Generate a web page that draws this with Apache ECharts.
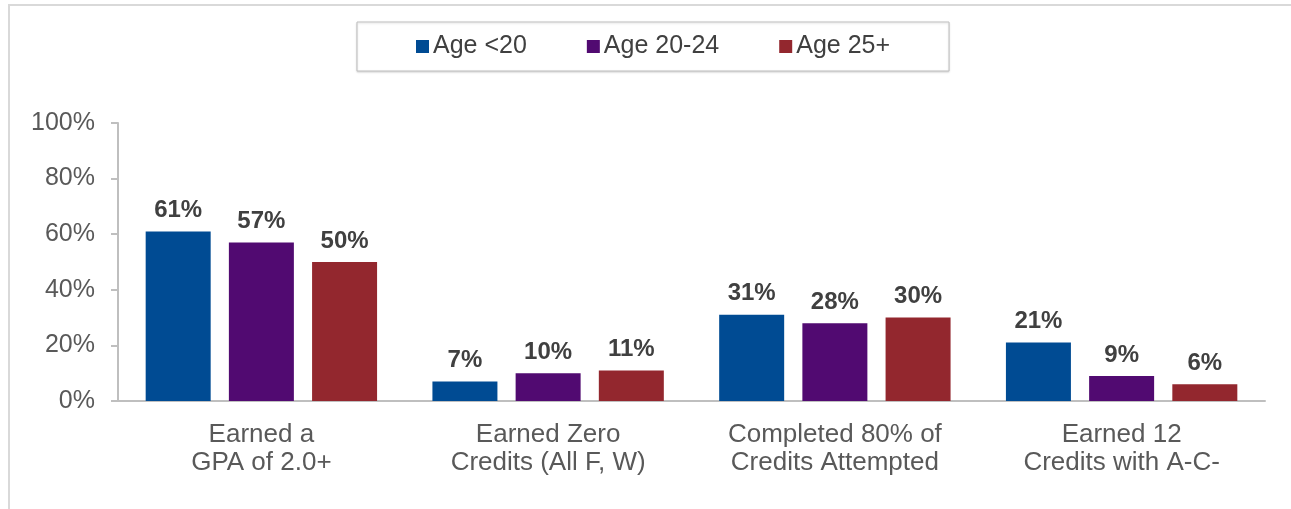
<!DOCTYPE html>
<html lang="en">
    <head>
        <meta charset="UTF-8" />
        <script src="https://cdn.jsdelivr.net/npm/echarts@6/dist/echarts.min.js"></script>
        <title>Metrics by Age Group</title>
        <style>
            html, body {
                margin: 0;
                padding: 0;
                background: #fff;
            }
            #frame {
                position: absolute;
                left: 8px;
                top: 4px;
                width: 1300px;
                height: 520px;
                border-top: 2px solid #d9d9d9;
                border-left: 2px solid #d9d9d9;
            }
            #chart {
                position: absolute;
                left: 0;
                top: 0;
                width: 1291px;
                height: 509px;
            }
        </style>
    </head>

    <body>
        <div id="frame"></div>
        <div id="chart"></div>
        <script type="text/javascript">
            // data
            var categories = [
                "Earned a\nGPA of 2.0+",
                "Earned Zero\nCredits (All F, W)",
                "Completed 80% of\nCredits Attempted",
                "Earned 12\nCredits with A-C-"
            ];
            var seriesNames = ["Age <20", "Age 20-24", "Age 25+"];
            var ageUnder20 = [61, 7, 31, 21];
            var age20to24 = [57, 10, 28, 9];
            var age25plus = [50, 11, 30, 6];
            var colors = ["#004b93", "#510a71", "#93272e"];

            var chart = echarts.init(document.getElementById("chart"));

            function barSeries(name, values, color) {
                return {
                    name: name,
                    type: "bar",
                    data: values,
                    barWidth: 65,
                    barGap: "28%",
                    itemStyle: { color: color },
                    label: {
                        show: true,
                        position: "top",
                        distance: 9,
                        formatter: "{c}%",
                        fontFamily: "Liberation Sans, Arial, sans-serif",
                        fontSize: 24,
                        fontWeight: "bold",
                        color: "#404040"
                    }
                };
            }

            var option = {
                animation: false,
                textStyle: { fontFamily: "Liberation Sans, Arial, sans-serif" },
                legend: {
                    left: 357,
                    top: 22,
                    padding: [12, 59],
                    itemWidth: 13,
                    itemHeight: 13,
                    itemGap: 60,
                    icon: "rect",
                    borderColor: "#bfbfbf",
                    borderWidth: 1,
                    backgroundColor: "#fff",
                    shadowColor: "rgba(0,0,0,0.15)",
                    shadowBlur: 2,
                    shadowOffsetY: 1,
                    textStyle: {
                        fontSize: 25,
                        color: "#404040",
                        padding: [0, 0, 0, -1]
                    },
                    data: seriesNames
                },
                grid: {
                    left: 118,
                    right: 26,
                    top: 123,
                    bottom: 108
                },
                xAxis: {
                    type: "category",
                    data: categories,
                    axisLine: { lineStyle: { color: "#bfbfbf", width: 2 } },
                    axisTick: { length: 8, lineStyle: { color: "#bfbfbf", width: 2 } },
                    axisLabel: {
                        fontSize: 26,
                        lineHeight: 28,
                        color: "#595959",
                        margin: 20
                    }
                },
                yAxis: {
                    type: "value",
                    min: 0,
                    max: 100,
                    interval: 20,
                    splitLine: { show: false },
                    axisLine: { show: true, lineStyle: { color: "#bfbfbf", width: 2 } },
                    axisTick: { show: true, length: 7, lineStyle: { color: "#bfbfbf", width: 2 } },
                    axisLabel: {
                        formatter: "{value}%",
                        fontSize: 25,
                        color: "#595959",
                        margin: 23
                    }
                },
                series: [
                    barSeries(seriesNames[0], ageUnder20, colors[0]),
                    barSeries(seriesNames[1], age20to24, colors[1]),
                    barSeries(seriesNames[2], age25plus, colors[2])
                ]
            };

            chart.setOption(option);
        </script>
    </body>
</html>
